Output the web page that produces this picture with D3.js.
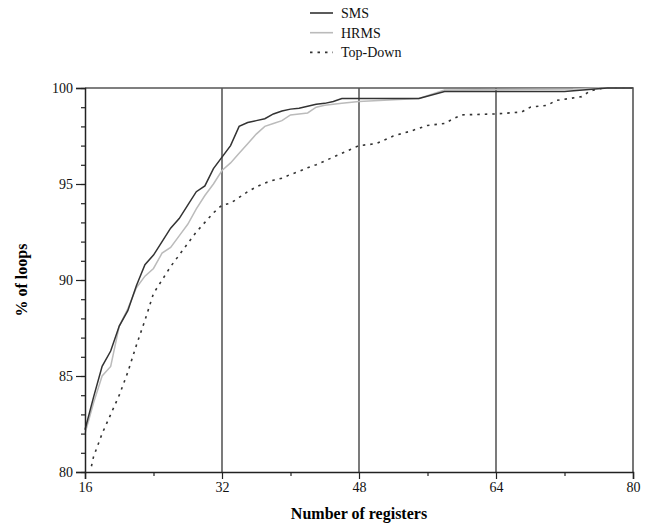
<!DOCTYPE html>
<html>
<head>
<meta charset="utf-8">
<script src="https://cdn.jsdelivr.net/npm/d3@7"></script>
<style>
  body { margin: 0; background: #fff; }
  text { font-family: "Liberation Serif", "DejaVu Serif", serif; }
</style>
</head>
<body>
<svg width="650" height="529"></svg>
<script>
// data: [registers, % of loops]
var smsData = [[16,82.2],[17,83.9],[18,85.5],[19,86.3],[20,87.6],[21,88.4],[22,89.7],[23,90.8],[24,91.3],
  [25,92.0],[26,92.7],[27,93.2],[28,93.9],[29,94.6],[30,94.9],[31,95.8],[32,96.4],[33,97.0],[34,98.0],
  [35,98.2],[36,98.3],[37,98.4],[38,98.65],[39,98.8],[40,98.9],[41,98.95],[42,99.05],[43,99.15],[44,99.2],
  [45,99.3],[46,99.45],[48,99.45],[55,99.45],[58,99.82],[72,99.82],[77,100],[80,100]];

var hrmsData = [[16,82.0],[17,83.6],[18,85.0],[19,85.5],[20,87.6],[21,88.5],[22,89.6],[23,90.2],[24,90.6],
  [25,91.4],[26,91.7],[27,92.3],[28,92.9],[29,93.7],[30,94.4],[31,95.0],[32,95.7],[33,96.1],[34,96.6],
  [35,97.1],[36,97.6],[37,98.0],[38,98.15],[39,98.3],[40,98.6],[41,98.65],[42,98.7],[43,99.0],[44,99.1],
  [45,99.15],[46,99.2],[48,99.3],[55,99.45],[58,99.9],[73,99.95],[76,100],[80,100]];

var topDownData = [[16.75,80.3],[17,80.8],[18,82.0],[19,83.0],[20,84.0],[21,85.2],[22,86.6],[23,87.9],
  [24,89.3],[25,90.0],[26,90.7],[27,91.3],[28,91.9],[29,92.5],[30,93.0],[31,93.5],[32,93.9],[33,94.0],
  [34,94.3],[35,94.6],[36,94.85],[37,95.05],[38,95.2],[39,95.3],[40,95.5],[41,95.65],[42,95.85],[43,96.0],
  [44,96.2],[45,96.4],[46,96.6],[47,96.8],[48,97.0],[50,97.1],[52,97.5],[54,97.75],[56,98.05],[58,98.15],
  [59,98.4],[60,98.6],[64,98.65],[67,98.75],[68,99.0],[70,99.1],[71,99.35],[74,99.55],[75,99.85],
  [76.5,100],[80,100]];

var xTicks = [16, 32, 48, 64, 80],
    xMinor = [24, 40, 56, 72],
    yTicks = [80, 85, 90, 95, 100],
    gridX = [32, 48, 64];

var series = [
  {name: "SMS", data: smsData, color: "#333", dash: null},
  {name: "HRMS", data: hrmsData, color: "#bbb", dash: null},
  {name: "Top-Down", data: topDownData, color: "#333", dash: "2.5,5"}
];

var svg = d3.select("svg");
var plotL = 85, plotR = 633, plotT = 88, plotB = 472;

var x = d3.scaleLinear().domain([16, 80]).range([plotL, plotR]);
var y = d3.scaleLinear().domain([80, 100]).range([plotB, plotT]);

// vertical grid lines
svg.append("g").selectAll("line")
  .data(gridX).enter().append("line")
  .attr("x1", function(d) { return x(d); })
  .attr("x2", function(d) { return x(d); })
  .attr("y1", plotT).attr("y2", plotB)
  .attr("stroke", "#333").attr("stroke-width", 1.3);

// box top / right
svg.append("path")
  .attr("d", "M" + plotL + "," + plotT + "H" + plotR + "V" + plotB)
  .attr("fill", "none").attr("stroke", "#555").attr("stroke-width", 1.6);

// curves
var line = d3.line()
  .x(function(d) { return x(d[0]); })
  .y(function(d) { return y(d[1]); });

svg.append("g").selectAll("path")
  .data(series.slice().reverse()).enter().append("path")
  .attr("d", function(d) { return line(d.data); })
  .attr("fill", "none")
  .attr("stroke", function(d) { return d.color; })
  .attr("stroke-width", function(d) { return d.dash ? 1.6 : 1.5; })
  .attr("stroke-dasharray", function(d) { return d.dash; });

// axes
svg.append("g")
  .attr("transform", "translate(0," + plotB + ")")
  .call(d3.axisBottom(x).tickValues(xTicks).tickFormat(d3.format("d")).tickSize(7).tickPadding(3));
svg.append("g")
  .attr("transform", "translate(0," + plotB + ")")
  .call(d3.axisBottom(x).tickValues(xMinor).tickFormat("").tickSize(4))
  .select(".domain").remove();

svg.append("g")
  .attr("transform", "translate(" + plotL + ",0)")
  .call(d3.axisLeft(y).tickValues(yTicks).tickFormat(d3.format("d")).tickSize(9).tickPadding(3));
svg.append("g")
  .attr("transform", "translate(" + plotL + ",0)")
  .call(d3.axisLeft(y).ticks(20).tickFormat("").tickSize(4))
  .select(".domain").remove();

svg.selectAll(".domain").attr("stroke", "#222").attr("stroke-width", 1.5);
svg.selectAll(".tick line").attr("stroke", "#222").attr("stroke-width", 1.2);
svg.selectAll(".tick text")
  .attr("font-family", "Liberation Serif, serif")
  .attr("font-size", 14).attr("fill", "#111");

// axis titles
svg.append("text")
  .attr("x", (plotL + plotR) / 2).attr("y", 519)
  .attr("text-anchor", "middle")
  .attr("font-weight", "bold").attr("font-size", 16)
  .text("Number of registers");

svg.append("text")
  .attr("transform", "translate(27," + ((plotT + plotB) / 2) + ") rotate(-90)")
  .attr("text-anchor", "middle")
  .attr("font-weight", "bold").attr("font-size", 16)
  .text("% of loops");

// legend
var legend = svg.append("g").selectAll("g")
  .data(series).enter().append("g")
  .attr("transform", function(d, i) { return "translate(310," + (13 + i * 19.7) + ")"; });

legend.append("line")
  .attr("x1", 0).attr("x2", 23)
  .attr("stroke", function(d) { return d.color; })
  .attr("stroke-width", 1.6)
  .attr("stroke-dasharray", function(d) { return d.dash; });

legend.append("text")
  .attr("x", 31).attr("dy", "0.35em")
  .attr("font-size", 14).attr("fill", "#111")
  .text(function(d) { return d.name; });
</script>
</body>
</html>
